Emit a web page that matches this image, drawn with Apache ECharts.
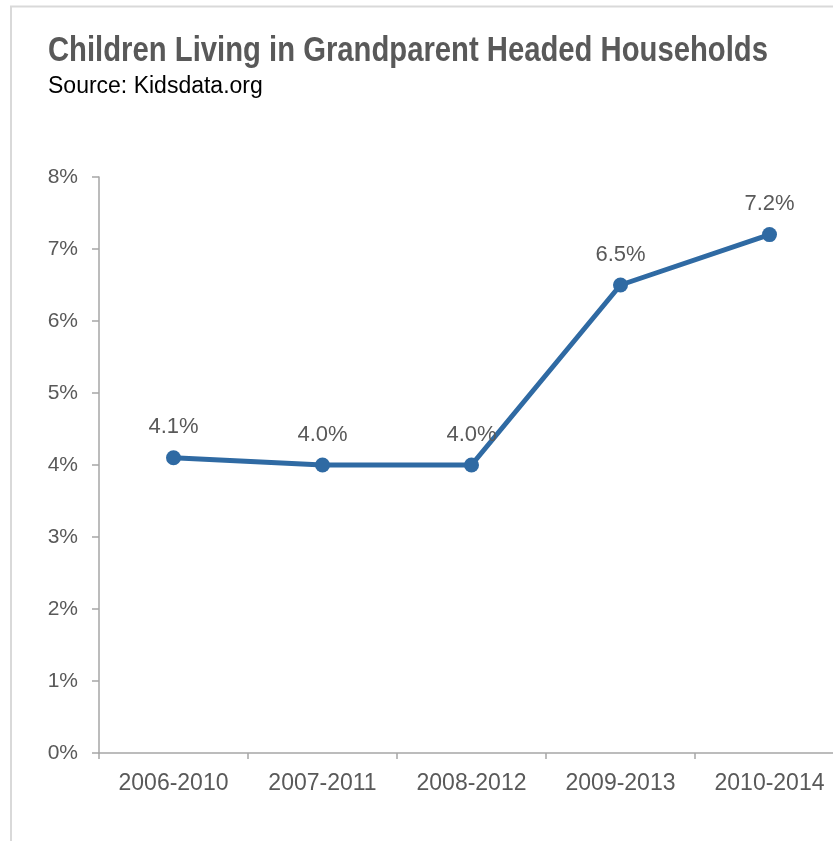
<!DOCTYPE html>
<html>
<head>
<meta charset="utf-8">
<script src="https://cdn.jsdelivr.net/npm/echarts@6/dist/echarts.min.js"></script>
<style>
html,body{margin:0;padding:0;background:#fff;overflow:hidden;}
#chart{width:860px;height:841px;}
</style>
</head>
<body>
<div id="chart"></div>
<script>
var titleText = 'Children Living in Grandparent Headed Households';
var subtitleText = 'Source: Kidsdata.org';
var categories = ['2006-2010', '2007-2011', '2008-2012', '2009-2013', '2010-2014'];
var values = [4.1, 4.0, 4.0, 6.5, 7.2];
var yTicks = [0, 1, 2, 3, 4, 5, 6, 7, 8];

var gray = '#595959';
var titleFont = 'bold 35px "Liberation Sans"';
var cv = document.createElement('canvas').getContext('2d');
cv.font = titleFont;
var titleScale = 720 / cv.measureText(titleText).width;

var chart = echarts.init(document.getElementById('chart'), null, {renderer: 'canvas'});
chart.setOption({
  animation: false,
  backgroundColor: '#fff',
  title: [{
    text: subtitleText,
    left: 48, top: 75, padding: 0,
    textStyle: {fontFamily: 'Liberation Sans', fontWeight: 'normal', fontSize: 23, color: '#000'}
  }],
  graphic: [{
    type: 'polyline',
    shape: {points: [[11, 841], [11, 6.5], [860, 6.5]]},
    style: {stroke: '#d9d9d9', lineWidth: 2, fill: null},
    silent: true
  }, {
    type: 'text',
    x: 48, y: 51,
    scaleX: titleScale, scaleY: 1,
    style: {
      text: titleText,
      font: titleFont,
      fill: gray,
      align: 'left',
      verticalAlign: 'middle'
    },
    silent: true
  }],
  grid: {left: 99, width: 745, top: 177, bottom: 88, containLabel: false},
  xAxis: {
    type: 'category',
    data: categories,
    boundaryGap: true,
    axisLine: {lineStyle: {color: '#a6a6a6', width: 1.5}},
    axisTick: {show: true, length: 6, inside: false, lineStyle: {color: '#a6a6a6', width: 1.5}},
    axisLabel: {color: gray, fontFamily: 'Liberation Sans', fontSize: 23, margin: 19}
  },
  yAxis: {
    type: 'value',
    min: yTicks[0], max: yTicks[yTicks.length - 1], interval: 1,
    axisLine: {show: true, lineStyle: {color: '#a6a6a6', width: 1.5}},
    axisTick: {show: true, length: 7, lineStyle: {color: '#a6a6a6', width: 1.5}},
    splitLine: {show: false},
    axisLabel: {color: gray, fontFamily: 'Liberation Sans', fontSize: 21, margin: 21,
      formatter: function (v) { return v + '%'; }}
  },
  series: [{
    type: 'line',
    data: values,
    symbol: 'circle',
    symbolSize: 15,
    lineStyle: {color: '#2F6AA3', width: 5},
    itemStyle: {color: '#2F6AA3'},
    label: {
      show: true, position: 'top', distance: 12,
      color: gray, fontFamily: 'Liberation Sans', fontSize: 22,
      formatter: function (p) { return p.value.toFixed(1) + '%'; }
    }
  }]
});
</script>
</body>
</html>
